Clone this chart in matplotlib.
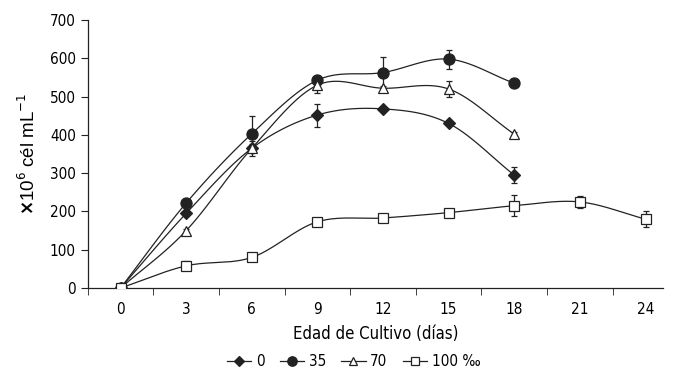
import numpy as np
import matplotlib.pyplot as plt
from matplotlib.lines import Line2D

days = [0, 3, 6, 9, 12, 15, 18, 21, 24]

s0 = [0, 195, 365, 452, 468, 430, 295]
s0_err = [0, 0, 20, 30, 5, 5, 20]
s35 = [0, 222, 403, 543, 563, 598, 535]
s35_err = [0, 5, 47, 5, 40, 25, 5]
s70 = [0, 150, 365, 530, 522, 520, 402]
s70_err = [0, 5, 10, 20, 5, 20, 5]
s100 = [0, 58, 80, 173, 183, 197, 215, 225, 180]
s100_err = [0, 12, 10, 5, 5, 8, 28, 15, 20]

labels = ["0", "35", "70", "100 \u2030"]

plt.rcParams['font.family'] = ['DejaVu Sans']
plt.rcParams['font.stretch'] = 'condensed'


def smooth(x, y, n=20):
    # Catmull-Rom style smoothing like a spreadsheet "smoothed line"
    x = np.asarray(x, float)
    y = np.asarray(y, float)
    px = np.concatenate([[2 * x[0] - x[1]], x, [2 * x[-1] - x[-2]]])
    py = np.concatenate([[2 * y[0] - y[1]], y, [2 * y[-1] - y[-2]]])
    xs, ys = [], []
    for i in range(1, len(px) - 2):
        t = np.linspace(0, 1, n)
        for p, out in ((px, xs), (py, ys)):
            p0, p1, p2, p3 = p[i - 1], p[i], p[i + 1], p[i + 2]
            b1 = p1 + (p2 - p0) / 6
            b2 = p2 - (p3 - p1) / 6
            out.extend((1 - t) ** 3 * p1 + 3 * (1 - t) ** 2 * t * b1
                       + 3 * (1 - t) * t ** 2 * b2 + t ** 3 * p2)
    return np.array(xs), np.array(ys)


fig = plt.figure(figsize=(6.8, 3.79), dpi=100)
ax = fig.add_axes([0.129, 0.24, 0.846, 0.707])

col = '#222222'
series = [
    (s0, s0_err, dict(marker='D', ms=6.5, mfc=col, mec=col)),
    (s35, s35_err, dict(marker='o', ms=8, mfc=col, mec=col)),
    (s70, s70_err, dict(marker='^', ms=7, mfc='white', mec=col)),
    (s100, s100_err, dict(marker='s', ms=7, mfc='white', mec=col)),
]

handles = []
for (vals, err, st), lab in zip(series, labels):
    x = days[:len(vals)]
    sx, sy = smooth(x, vals)
    ax.plot(sx, sy, color=col, lw=0.9, zorder=2)
    ax.errorbar(x, vals, yerr=err, fmt='none', ecolor=col, elinewidth=0.9,
                capsize=2, capthick=0.9, zorder=3)
    ax.plot(x, vals, ls='none', mew=0.9, zorder=4, **st)
    handles.append(Line2D([], [], color=col, lw=0.9, mew=0.9, label=lab,
                          **{k: (v * 0.85 if k == 'ms' else v) for k, v in st.items()}))

ax.set_xlim(-1.5, 24.8)
ax.set_ylim(0, 700)
ax.set_xticks(days)
ax.set_xticklabels([str(d) for d in days], fontsize=11)
ax.set_xticks(np.arange(-1.5, 24, 3), minor=True)
ax.tick_params(axis='x', which='major', length=0, pad=10)
ax.tick_params(axis='x', which='minor', length=5, direction='out', color=col)
ax.set_yticks(range(0, 701, 100))
ax.tick_params(axis='y', labelsize=11, length=5, direction='out', color=col)

for s in ['top', 'right']:
    ax.spines[s].set_visible(False)
for s in ['left', 'bottom']:
    ax.spines[s].set_color(col)
    ax.spines[s].set_linewidth(0.9)

ax.set_xlabel("Edad de Cultivo (días)", fontsize=12, labelpad=6)
ax.set_ylabel(r"$\mathbf{\times}$10$^{6}$ cél mL$^{-1}$", fontsize=13.5,
              family=['Liberation Sans', 'DejaVu Sans'], fontstretch='normal',
              labelpad=8)

fig.legend(handles=handles, loc='lower center', ncol=4, frameon=False,
           bbox_to_anchor=(0.52, -0.01), fontsize=11, handlelength=1.6,
           columnspacing=1.0, handletextpad=0.3)

fig.savefig('out.png', dpi=100)
